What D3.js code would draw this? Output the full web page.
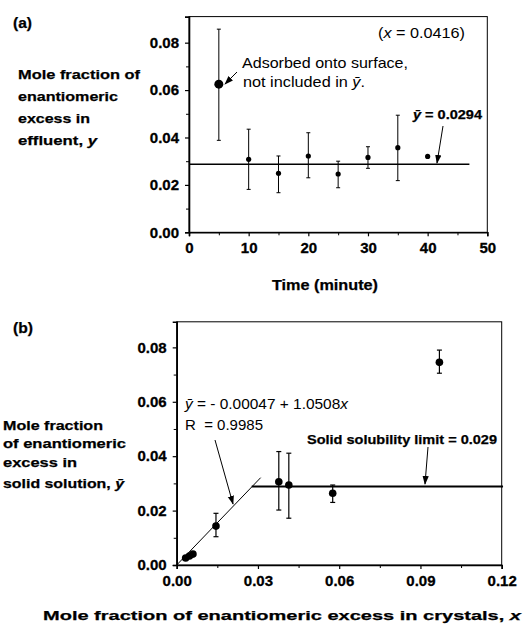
<!DOCTYPE html>
<html><head><meta charset="utf-8">
<script src="https://cdn.jsdelivr.net/npm/d3@7"></script>
<style>
body{margin:0;background:#fff;}
svg{display:block;font-family:"Liberation Sans",Arial,sans-serif;}
</style></head>
<body><svg id="c" width="529" height="626"></svg>
<script>
// ---- Panel (a) data ----
const timeA = [5, 10, 15, 20, 25, 30, 35, 40];
const yA    = [0.0625, 0.0308, 0.0249, 0.0322, 0.0246, 0.0316, 0.0357, 0.0320];
const yAlo  = [0.0388, 0.0181, 0.0167, 0.0230, 0.0188, 0.0270, 0.0218, null];
const yAhi  = [0.0857, 0.0435, 0.0322, 0.0420, 0.0300, 0.0361, 0.0494, null];
const meanA = 0.0287;          // drawn ȳ line
const meanAEnd = 47;           // line end (minutes)
const xTicksA = [0, 10, 20, 30, 40, 50];
const yTicksA = [0.00, 0.02, 0.04, 0.06, 0.08];

// ---- Panel (b) data ----
const xB   = [0.0033, 0.0047, 0.0060, 0.0145, 0.0377, 0.0414, 0.0576, 0.0970];
const yB   = [0.0026, 0.0033, 0.0040, 0.0143, 0.0306, 0.0294, 0.0264, 0.0745];
const yBlo = [null, null, null, 0.0104, 0.0202, 0.0172, 0.0230, 0.0705];
const yBhi = [null, null, null, 0.0190, 0.0417, 0.0411, 0.0294, 0.0790];
const fitIntercept = -0.00047, fitSlope = 1.0508;
const fitEndX = 0.031;
const limitB = 0.0289, limitStart = 0.0277, limitEnd = 0.1205;
const xTicksB = [0, 0.03, 0.06, 0.09, 0.12];
const yTicksB = [0.00, 0.02, 0.04, 0.06, 0.08];

const svg = d3.select("#c");
const F = '"Liberation Sans",Arial,sans-serif';

svg.append("defs").append("marker").attr("id","ah")
  .attr("viewBox","0 0 10 10").attr("refX",9).attr("refY",5)
  .attr("markerWidth",9).attr("markerHeight",9).attr("markerUnits","userSpaceOnUse")
  .attr("orient","auto")
  .append("path").attr("d","M0,1.5 L10,5 L0,8.5 Z").attr("fill","#000");

function arrow(g, x1,y1,x2,y2){
  g.append("line").attr("x1",x1).attr("y1",y1).attr("x2",x2).attr("y2",y2)
   .attr("stroke","#000").attr("stroke-width",1).attr("marker-end","url(#ah)");
}
// text helper: x, baseline y, html, size, bold, fitted width, anchor
function txt(g, x, y, html, fs, bold, w, anchor){
  const t = g.append("text").attr("x",x).attr("y",y).attr("font-size",fs).attr("font-family",F)
    .attr("font-weight",bold?"bold":"normal").attr("fill","#000").html(html);
  if (anchor) t.attr("text-anchor",anchor);
  if (w) t.attr("textLength",w).attr("lengthAdjust","spacingAndGlyphs");
  if (bold) t.attr("stroke","#000").attr("stroke-width",0.25);
  return t;
}

function frame(g, x, y){
  const [x0,x1] = x.range(), [y0,y1] = y.range();
  g.append("rect").attr("x",x0).attr("y",y1).attr("width",x1-x0).attr("height",y0-y1)
   .attr("fill","none").attr("stroke","#000").attr("stroke-width",1);
}

function axes(g, x, y, xt, yt, xMinor, yMinor, xfmt, yfmt, fs){
  const [x0] = x.range(), [y0] = y.range();
  const ax = g.append("g").attr("transform",`translate(0,${y0})`)
    .call(d3.axisBottom(x).tickValues(xt).tickSize(4).tickPadding(6).tickFormat(xfmt));
  g.append("g").attr("transform",`translate(0,${y0})`)
    .call(d3.axisBottom(x).tickValues(xMinor).tickSize(3).tickFormat(""))
    .call(s=>s.select(".domain").remove());
  const ay = g.append("g").attr("transform",`translate(${x0},0)`)
    .call(d3.axisLeft(y).tickValues(yt).tickSize(4).tickPadding(6).tickFormat(yfmt));
  g.append("g").attr("transform",`translate(${x0},0)`)
    .call(d3.axisLeft(y).tickValues(yMinor).tickSize(3).tickFormat(""))
    .call(s=>s.select(".domain").remove());
  [ax,ay].forEach(a=>{
    a.select(".domain").attr("stroke-width",1.6);
    a.selectAll(".tick line").attr("stroke-width",1.2);
    a.selectAll(".tick text").attr("font-size",fs).attr("font-family",F).attr("font-weight","bold")
      .attr("fill","#000").attr("stroke","#000").attr("stroke-width",0.3);
  });
  g.selectAll(".tick line").attr("stroke","#000");
}

// ================= Panel (a) =================
const gA = svg.append("g");
const xa = d3.scaleLinear().domain([0,50]).range([189,487.3]);
const ya = d3.scaleLinear().domain([0,0.091]).range([232.3,16.6]);
frame(gA, xa, ya);
axes(gA, xa, ya, xTicksA, yTicksA, d3.range(5,50,10), d3.range(0.01,0.09,0.02),
     d3.format("d"), d3.format(".2f"), 15);

gA.append("line").attr("x1",xa(0)).attr("x2",xa(meanAEnd)).attr("y1",ya(meanA)).attr("y2",ya(meanA))
  .attr("stroke","#000").attr("stroke-width",1.5);

timeA.forEach((t,i)=>{
  if (yAlo[i]==null) return;
  const cx = xa(t);
  gA.append("line").attr("x1",cx).attr("x2",cx).attr("y1",ya(yAlo[i])).attr("y2",ya(yAhi[i])).attr("stroke","#000").attr("stroke-width",1);
  [yAlo[i],yAhi[i]].forEach(v=>gA.append("line").attr("x1",cx-2).attr("x2",cx+2).attr("y1",ya(v)).attr("y2",ya(v)).attr("stroke","#000").attr("stroke-width",1));
});
gA.selectAll("circle.pa").data(timeA).join("circle").attr("class","pa")
  .attr("cx",d=>xa(d)).attr("cy",(d,i)=>ya(yA[i])).attr("r",(d,i)=>i===0?4.5:2.6).attr("fill","#000");

txt(gA, 13, 28, "(a)", 14, true, 19);
txt(gA, 378, 38, '(<tspan font-style="italic">x</tspan> = 0.0416)', 15, false, 87);
txt(gA, 242, 68, "Adsorbed onto surface,", 15, false, 166);
txt(gA, 243, 87, 'not included in <tspan font-style="italic">ȳ</tspan>.', 15, false, 122);
arrow(gA, 237,72, 225,84);
txt(gA, 413, 119, '<tspan font-style="italic">ȳ</tspan> = 0.0294', 12, true, 69);
arrow(gA, 443,126, 437,163);

txt(gA, 18, 79, "Mole fraction of", 13.5, true, 122);
txt(gA, 18, 101, "enantiomeric", 13.5, true, 100);
txt(gA, 18, 123, "excess in", 13.5, true, 72);
txt(gA, 18, 145, 'effluent, <tspan font-style="italic">y</tspan>', 13.5, true, 79);
txt(gA, 272, 290, "Time (minute)", 14, true, 106);

// ================= Panel (b) =================
const gB = svg.append("g");
const xb = d3.scaleLinear().domain([0,0.12]).range([176.7,501.7]);
const yb = d3.scaleLinear().domain([0,0.0894]).range([565,321.8]);
frame(gB, xb, yb);
axes(gB, xb, yb, xTicksB, yTicksB, d3.range(0.015,0.12,0.03), d3.range(0.01,0.09,0.02),
     d3.format(".2f"), d3.format(".2f"), 15);

gB.append("line").attr("x1",xb(0)).attr("y1",yb(Math.max(0,fitIntercept))).attr("x2",xb(fitEndX)).attr("y2",yb(fitIntercept+fitSlope*fitEndX))
  .attr("stroke","#000").attr("stroke-width",1);
gB.append("line").attr("x1",xb(limitStart)).attr("x2",xb(limitEnd)).attr("y1",yb(limitB)).attr("y2",yb(limitB))
  .attr("stroke","#000").attr("stroke-width",2);

xB.forEach((xv,i)=>{
  if (yBlo[i]==null) return;
  const cx = xb(xv);
  gB.append("line").attr("x1",cx).attr("x2",cx).attr("y1",yb(yBlo[i])).attr("y2",yb(yBhi[i])).attr("stroke","#000").attr("stroke-width",1.2);
  [yBlo[i],yBhi[i]].forEach(v=>gB.append("line").attr("x1",cx-2.5).attr("x2",cx+2.5).attr("y1",yb(v)).attr("y2",yb(v)).attr("stroke","#000").attr("stroke-width",1.2));
});
gB.selectAll("circle.pb").data(xB).join("circle").attr("class","pb")
  .attr("cx",d=>xb(d)).attr("cy",(d,i)=>yb(yB[i])).attr("r",3.8).attr("fill","#000");

txt(gB, 13, 333, "(b)", 14, true, 20);
txt(gB, 185, 409, '<tspan font-style="italic">ȳ</tspan> = - 0.00047 + 1.0508<tspan font-style="italic">x</tspan>', 14.5, false, 163);
txt(gB, 185, 430, 'R&#160; = 0.9985', 14.5, false, 78);
arrow(gB, 215,440, 233,504);
txt(gB, 307, 444, "Solid solubility limit = 0.029", 12.5, true, 190);
arrow(gB, 428,447, 425,484);

txt(gB, 3, 430, "Mole fraction", 13.5, true, 100);
txt(gB, 3, 448, "of enantiomeric", 13.5, true, 123);
txt(gB, 3, 467, "excess in", 13.5, true, 74);
txt(gB, 3, 488, 'solid solution, <tspan font-style="italic">ȳ</tspan>', 13.5, true, 121);
txt(gB, 43, 620, 'Mole fraction of enantiomeric excess in crystals, <tspan font-style="italic">x</tspan>', 13.5, true, 478);
</script></body></html>
